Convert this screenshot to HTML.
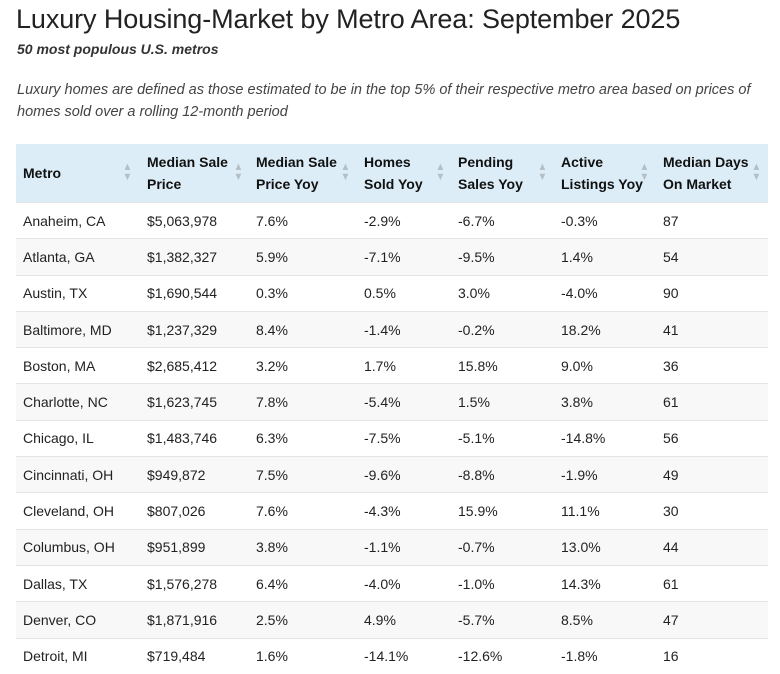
<!DOCTYPE html>
<html><head><meta charset="utf-8">
<style>
body{margin:0;background:#fff;font-family:"Liberation Sans",sans-serif;color:#222;width:780px;height:674px;overflow:hidden;position:relative}
h1{position:absolute;left:16px;top:4px;margin:0;font-size:27px;font-weight:normal;color:#222;letter-spacing:-0.1px}
.sub{position:absolute;left:17px;top:41px;font-size:14px;font-weight:bold;font-style:italic;color:#333}
.desc{position:absolute;left:17px;top:79px;width:740px;font-size:14.5px;font-style:italic;color:#444;line-height:22px}
table{position:absolute;left:16px;top:144px;width:752px;border-collapse:collapse;font-size:14px}
th{background:#dcedf7;text-align:left;font-weight:bold;height:58px;padding:0 0 0 7px;line-height:22px;vertical-align:middle;position:relative;color:#111}
td{height:35.3px;padding:0 0 0 7px;border-top:1px solid #e4e4e4;color:#222}
tr.alt td{background:#f8f8f8}
.arr{position:absolute;top:18px;color:#b5bfc6;font-size:11px;line-height:10px;transform:scaleX(0.9)}
</style></head><body>
<h1>Luxury Housing-Market by Metro Area: September 2025</h1>
<div class="sub">50 most populous U.S. metros</div>
<div class="desc">Luxury homes are defined as those estimated to be in the top 5% of their respective metro area based on prices of homes sold over a rolling 12-month period</div>
<table>
<colgroup><col style="width:124px"><col style="width:109px"><col style="width:108px"><col style="width:94px"><col style="width:103px"><col style="width:102px"><col style="width:112px"></colgroup>
<thead><tr>
<th>Metro<span class="arr" style="left:106px">▲<br>▼</span></th>
<th>Median Sale<br>Price<span class="arr" style="left:93px">▲<br>▼</span></th>
<th>Median Sale<br>Price Yoy<span class="arr" style="left:91px">▲<br>▼</span></th>
<th>Homes<br>Sold Yoy<span class="arr" style="left:78px">▲<br>▼</span></th>
<th>Pending<br>Sales Yoy<span class="arr" style="left:86px">▲<br>▼</span></th>
<th>Active<br>Listings Yoy<span class="arr" style="left:85px">▲<br>▼</span></th>
<th>Median Days<br>On Market<span class="arr" style="left:95px">▲<br>▼</span></th>
</tr></thead>
<tbody id="tb"></tbody>
</table>
<script>
const metros=["Anaheim, CA","Atlanta, GA","Austin, TX","Baltimore, MD","Boston, MA","Charlotte, NC","Chicago, IL","Cincinnati, OH","Cleveland, OH","Columbus, OH","Dallas, TX","Denver, CO","Detroit, MI"];
const prices=["$5,063,978","$1,382,327","$1,690,544","$1,237,329","$2,685,412","$1,623,745","$1,483,746","$949,872","$807,026","$951,899","$1,576,278","$1,871,916","$719,484"];
const priceYoy=["7.6%","5.9%","0.3%","8.4%","3.2%","7.8%","6.3%","7.5%","7.6%","3.8%","6.4%","2.5%","1.6%"];
const soldYoy=["-2.9%","-7.1%","0.5%","-1.4%","1.7%","-5.4%","-7.5%","-9.6%","-4.3%","-1.1%","-4.0%","4.9%","-14.1%"];
const pendingYoy=["-6.7%","-9.5%","3.0%","-0.2%","15.8%","1.5%","-5.1%","-8.8%","15.9%","-0.7%","-1.0%","-5.7%","-12.6%"];
const activeYoy=["-0.3%","1.4%","-4.0%","18.2%","9.0%","3.8%","-14.8%","-1.9%","11.1%","13.0%","14.3%","8.5%","-1.8%"];
const days=["87","54","90","41","36","61","56","49","30","44","61","47","16"];
const tb=document.getElementById('tb');
metros.forEach((m,i)=>{
  const tr=document.createElement('tr');
  if(i%2)tr.className='alt';
  
  
  [m,prices[i],priceYoy[i],soldYoy[i],pendingYoy[i],activeYoy[i],days[i]].forEach(v=>{
    const td=document.createElement('td');td.textContent=v;
    
    
    tr.appendChild(td);
  });
  tb.appendChild(tr);
});
</script>
</body></html>
